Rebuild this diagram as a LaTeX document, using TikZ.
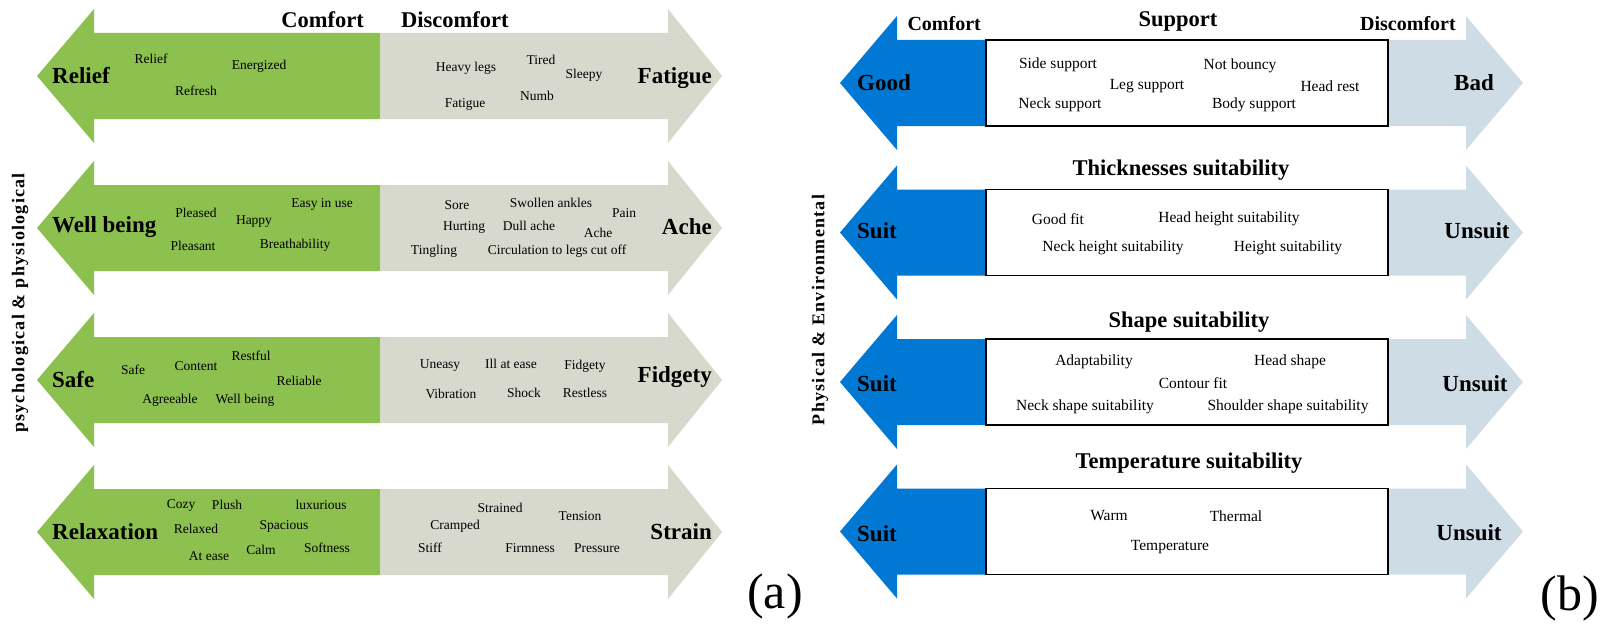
\documentclass[tikz,border=0pt]{standalone}
\usepackage{fontspec}
\setmainfont{Liberation Serif}
\newfontfamily\spacedfont[LetterSpace=7]{Liberation Serif}
\usepackage{tikz}

\definecolor{leafgreen}{RGB}{140,193,80}
\definecolor{stonegrey}{RGB}{216,217,205}
\definecolor{deepblue}{RGB}{0,120,212}
\definecolor{paleblue}{RGB}{205,220,229}

\begin{document}
\begin{tikzpicture}[x=1pt, y=-1pt,
    bigword/.style={font=\fontsize{23}{26}\selectfont\bfseries, inner sep=0pt},
    headword/.style={font=\fontsize{22.5}{25}\selectfont\bfseries, inner sep=0pt},
    sideword/.style={font=\fontsize{20}{22}\selectfont\bfseries, inner sep=0pt},
    aword/.style={font=\fontsize{13.5}{15}\selectfont, inner sep=0pt},
    bword/.style={font=\fontsize{15.5}{17}\selectfont, inner sep=0pt},
    axislabel/.style={font=\spacedfont\fontsize{18}{20}\selectfont\bfseries, rotate=90, inner sep=0pt},
    panel/.style={font=\fontsize{50}{55}\selectfont, inner sep=0pt}]
    \useasboundingbox (0,0) rectangle (1610,626);

    % (a) double arrows, green half and grey half
    \foreach \c in {76,228,380,532} {
        \fill[leafgreen] (380,\c-43) -- (94,\c-43) -- (94,\c-67) -- (37,\c) -- (94,\c+67) -- (94,\c+43) -- (380,\c+43) -- cycle;
        \fill[stonegrey] (380,\c-43) -- (668,\c-43) -- (668,\c-67) -- (722,\c) -- (668,\c+67) -- (668,\c+43) -- (380,\c+43) -- cycle;
    }

    % (b) double arrows with a white box in the middle
    \foreach \c in {83,232.5,382,531.5} {
        \fill[deepblue] (986,\c-43) -- (897,\c-43) -- (897,\c-67) -- (840,\c) -- (897,\c+67) -- (897,\c+43) -- (986,\c+43) -- cycle;
        \fill[paleblue] (1388,\c-43) -- (1466,\c-43) -- (1466,\c-67) -- (1523,\c) -- (1466,\c+67) -- (1466,\c+43) -- (1388,\c+43) -- cycle;
        \draw[line width=1.5pt, fill=white] (986,\c-43) rectangle (1388,\c+43);
    }

    % (a) headers and side label
    \node[headword, anchor=east] (a-comfort) at (364,20) {Comfort};
    \node[headword, anchor=west] (a-discomfort) at (401,20) {Discomfort};
    \node[axislabel] (a-axis) at (20,303) {psychological \& physiological};
    \node[panel] (a-panel) at (775,596) {(a)};

    % (a) row 1
    \node[bigword, anchor=west] (a-relief) at (52,76) {Relief};
    \node[bigword, anchor=east] (a-fatigue) at (712,78) {Fatigue};
    \node[aword] (w-relief) at (151,59) {Relief};
    \node[aword] (w-energized) at (259,66) {Energized};
    \node[aword] (w-refresh) at (196,91) {Refresh};
    \node[aword] (w-heavylegs) at (466,68) {Heavy legs};
    \node[aword] (w-tired) at (541,60) {Tired};
    \node[aword] (w-sleepy) at (584,75) {Sleepy};
    \node[aword] (w-numb) at (537,96) {Numb};
    \node[aword] (w-fatigue) at (465,104) {Fatigue};

    % (a) row 2
    \node[bigword, anchor=west] (a-wellbeing) at (52,227) {Well being};
    \node[bigword, anchor=east] (a-ache) at (712,227) {Ache};
    \node[aword] (w-pleased) at (196,213) {Pleased};
    \node[aword] (w-happy) at (254,222) {Happy};
    \node[aword] (w-easy) at (322,204) {Easy in use};
    \node[aword] (w-pleasant) at (193,246) {Pleasant};
    \node[aword] (w-breath) at (295,245) {Breathability};
    \node[aword] (w-sore) at (457,205) {Sore};
    \node[aword] (w-swollen) at (551,203) {Swollen ankles};
    \node[aword] (w-pain) at (624,213) {Pain};
    \node[aword] (w-hurting) at (464,227) {Hurting};
    \node[aword] (w-dullache) at (529,226) {Dull ache};
    \node[aword] (w-ache) at (598,233) {Ache};
    \node[aword] (w-tingling) at (434,251) {Tingling};
    \node[aword] (w-circulation) at (557,251) {Circulation to legs cut off};

    % (a) row 3
    \node[bigword, anchor=west] (a-safe) at (52,380) {Safe};
    \node[bigword, anchor=east] (a-fidgety) at (712,377) {Fidgety};
    \node[aword] (w-safe) at (133,370) {Safe};
    \node[aword] (w-content) at (196,366) {Content};
    \node[aword] (w-restful) at (251,356) {Restful};
    \node[aword] (w-reliable) at (299,381) {Reliable};
    \node[aword] (w-agreeable) at (170,400) {Agreeable};
    \node[aword] (w-wellbeing) at (245,400) {Well being};
    \node[aword] (w-uneasy) at (440,366) {Uneasy};
    \node[aword] (w-illatease) at (511,364) {Ill at ease};
    \node[aword] (w-fidgety) at (585,366) {Fidgety};
    \node[aword] (w-vibration) at (451,394) {Vibration};
    \node[aword] (w-shock) at (524,393) {Shock};
    \node[aword] (w-restless) at (585,393) {Restless};

    % (a) row 4
    \node[bigword, anchor=west] (a-relaxation) at (52,532) {Relaxation};
    \node[bigword, anchor=east] (a-strain) at (712,532) {Strain};
    \node[aword] (w-cozy) at (181,505) {Cozy};
    \node[aword] (w-plush) at (227,505) {Plush};
    \node[aword] (w-luxurious) at (321,505) {luxurious};
    \node[aword] (w-relaxed) at (196,529) {Relaxed};
    \node[aword] (w-spacious) at (284,526) {Spacious};
    \node[aword] (w-atease) at (209,556) {At ease};
    \node[aword] (w-calm) at (261,550) {Calm};
    \node[aword] (w-softness) at (327,548) {Softness};
    \node[aword] (w-strained) at (500,508) {Strained};
    \node[aword] (w-tension) at (580,516) {Tension};
    \node[aword] (w-cramped) at (455,526) {Cramped};
    \node[aword] (w-stiff) at (430,548) {Stiff};
    \node[aword] (w-firmness) at (530,548) {Firmness};
    \node[aword] (w-pressure) at (597,548) {Pressure};

    % (b) side label
    \node[axislabel] (b-axis) at (820,310) {Physical \& Environmental};
    \node[panel] (b-panel) at (1570,598) {(b)};

    % (b) row 1: support
    \node[sideword, anchor=east] (b-comfort) at (981,24) {Comfort};
    \node[headword] (b-support) at (1178,21) {Support};
    \node[sideword, anchor=west] (b-discomfort) at (1360,24) {Discomfort};
    \node[bigword] (b-good) at (884,83) {Good};
    \node[bigword] (b-bad) at (1474,83) {Bad};
    \node[bword] (v-side) at (1058,65) {Side support};
    \node[bword] (v-bouncy) at (1240,66) {Not bouncy};
    \node[bword] (v-leg) at (1147,86) {Leg support};
    \node[bword] (v-headrest) at (1330,86) {Head rest};
    \node[bword] (v-neck) at (1060,105) {Neck support};
    \node[bword] (v-body) at (1254,105) {Body support};

    % (b) row 2: thickness
    \node[headword] (b-thick) at (1181,170) {Thicknesses suitability};
    \node[bigword] (b-suit2) at (877,231) {Suit};
    \node[bigword] (b-unsuit2) at (1477,231) {Unsuit};
    \node[bword] (v-goodfit) at (1058,219) {Good fit};
    \node[bword] (v-headheight) at (1229,219) {Head height suitability};
    \node[bword] (v-neckheight) at (1113,248) {Neck height suitability};
    \node[bword] (v-height) at (1288,248) {Height suitability};

    % (b) row 3: shape
    \node[headword] (b-shape) at (1189,322) {Shape suitability};
    \node[bigword] (b-suit3) at (877,384) {Suit};
    \node[bigword] (b-unsuit3) at (1475,384) {Unsuit};
    \node[bword] (v-adapt) at (1094,362) {Adaptability};
    \node[bword] (v-headshape) at (1290,362) {Head shape};
    \node[bword] (v-contour) at (1193,383) {Contour fit};
    \node[bword] (v-neckshape) at (1085,407) {Neck shape suitability};
    \node[bword] (v-shoulder) at (1288,407) {Shoulder shape suitability};

    % (b) row 4: temperature
    \node[headword] (b-temp) at (1189,463) {Temperature suitability};
    \node[bigword] (b-suit4) at (877,534) {Suit};
    \node[bigword] (b-unsuit4) at (1469,533) {Unsuit};
    \node[bword] (v-warm) at (1109,516) {Warm};
    \node[bword] (v-thermal) at (1236,516) {Thermal};
    \node[bword] (v-temperature) at (1170,547) {Temperature};
\end{tikzpicture}
\end{document}
